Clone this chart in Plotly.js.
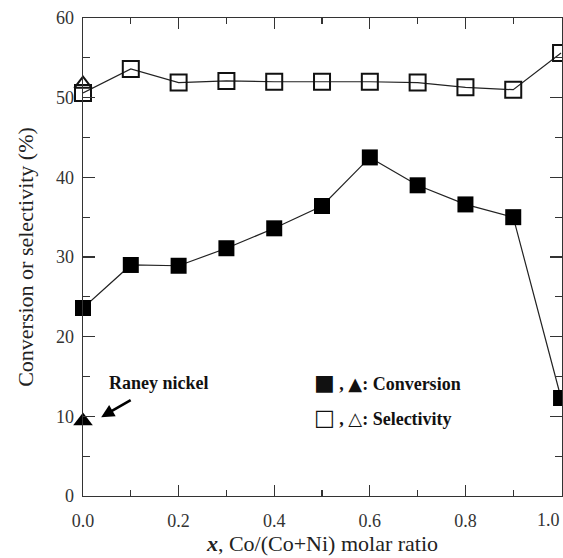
<!DOCTYPE html>
<html>
<head>
<meta charset="utf-8">
<script src="https://cdn.plot.ly/plotly-3.0.1.min.js"></script>
<style>html,body{margin:0;padding:0;overflow:hidden;background:#fff;}</style>
</head>
<body>
<div id="chart" style="width:563px;height:558px;"></div>
<script>
// Data
const ratioX = [0.0, 0.1, 0.2, 0.3, 0.4, 0.5, 0.6, 0.7, 0.8, 0.9, 1.0];
const conversion = [23.6, 29.0, 28.9, 31.1, 33.6, 36.4, 42.5, 39.0, 36.6, 35.0, 12.3];
const selectivity = [50.6, 53.6, 51.9, 52.1, 52.0, 52.0, 52.0, 51.9, 51.3, 51.0, 55.6];
const raneyX = [0.0];
const raneyConversion = [9.4];
const raneySelectivity = [51.7];
const xTickVals = [0, 0.2, 0.4, 0.6, 0.8, 1.0];
const xTickText = ['0.0', '0.2', '0.4', '0.6', '0.8', '1.0'];
const yTickVals = [0, 10, 20, 30, 40, 50, 60];

const font = '"Liberation Serif", "Times New Roman", Times, serif';
const sym = 'font-family:DejaVu Sans';

// last x tick label is drawn as an annotation so it stays inside the page
const shownXText = xTickText.slice(0, -1).concat(['']);

const traces = [
  {x: ratioX, y: selectivity, mode: 'lines+markers', cliponaxis: false,
   line: {color: '#222', width: 1.2},
   marker: {symbol: 'square-open', size: 16, color: '#111', line: {width: 2, color: '#111'}}},
  {x: raneyX, y: raneySelectivity, mode: 'markers', cliponaxis: false,
   marker: {symbol: 'triangle-up-open', size: 15, color: '#111', line: {width: 2, color: '#111'}}},
  {x: ratioX, y: conversion, mode: 'lines+markers', cliponaxis: false,
   line: {color: '#222', width: 1.2},
   marker: {symbol: 'square', size: 16, color: '#000'}},
  {x: raneyX, y: raneyConversion, mode: 'markers', cliponaxis: false,
   marker: {symbol: 'triangle-up', size: 17, color: '#000'}}
];

const layout = {
  width: 563, height: 558,
  margin: {l: 83, r: 1, t: 18, b: 62},
  showlegend: false,
  paper_bgcolor: '#fff', plot_bgcolor: '#fff',
  font: {family: font, size: 18, color: '#333'},
  xaxis: {
    range: [0, 1.002], tickvals: xTickVals, ticktext: shownXText,
    ticks: 'inside', ticklen: 11, tickwidth: 1.3, tickcolor: '#333',
    showline: true, linecolor: '#333', linewidth: 1.3, mirror: 'ticks',
    showgrid: false, zeroline: false, ticklabelstandoff: 8,
    tickfont: {family: font, size: 18, color: '#333'},
    minor: {dtick: 0.1, tick0: 0, ticks: 'inside', ticklen: 6, tickwidth: 1.3, tickcolor: '#333', showgrid: false},
    title: {text: '<b><i>x</i></b>, Co/(Co+Ni) molar ratio', font: {family: font, size: 22, color: '#222'}, standoff: 0}
  },
  yaxis: {
    range: [0, 60], tickvals: yTickVals,
    ticks: 'inside', ticklen: 12, tickwidth: 1.3, tickcolor: '#333',
    showline: true, linecolor: '#333', linewidth: 1.3, mirror: 'ticks',
    showgrid: false, zeroline: false, ticklabelstandoff: 4,
    tickfont: {family: font, size: 18, color: '#333'},
    minor: {dtick: 5, tick0: 0, ticks: 'inside', ticklen: 7, tickwidth: 1.3, tickcolor: '#333', showgrid: false},
    title: {text: 'Conversion or selectivity (%)', font: {family: font, size: 22, color: '#222'}, standoff: 16}
  },
  annotations: [
    {x: 1, y: 0, xref: 'paper', yref: 'paper', xanchor: 'right', yanchor: 'middle', yshift: -24,
     showarrow: false, text: xTickText[xTickText.length - 1], font: {family: font, size: 18, color: '#333'}},
    {x: 0.038, y: 9.9, xref: 'x', yref: 'y', ax: 31, ay: -18,
     text: '', showarrow: true, arrowhead: 2, arrowsize: 1.0, arrowwidth: 2.6, arrowcolor: '#000', standoff: 0},
    {x: 0.05, y: 14.2, xref: 'x', yref: 'y', xanchor: 'left', yanchor: 'middle', showarrow: false,
     text: '<b>Raney nickel</b>', font: {family: font, size: 18, color: '#111'}},
    {x: 0.478, y: 14.2, xref: 'x', yref: 'y', xanchor: 'left', yanchor: 'middle', showarrow: false,
     text: '<b><span style="' + sym + ';font-size:22px">■</span> , <span style="' + sym + ';font-size:18px">▲</span>: Conversion</b>', font: {family: font, size: 18, color: '#111'}},
    {x: 0.478, y: 9.8, xref: 'x', yref: 'y', xanchor: 'left', yanchor: 'middle', showarrow: false,
     text: '<b><span style="' + sym + ';font-size:22px">□</span> , <span style="' + sym + ';font-size:18px">△</span>: Selectivity</b>', font: {family: font, size: 18, color: '#111'}}
  ]
};

Plotly.newPlot('chart', traces, layout, {displayModeBar: false, staticPlot: true});
</script>
</body>
</html>
